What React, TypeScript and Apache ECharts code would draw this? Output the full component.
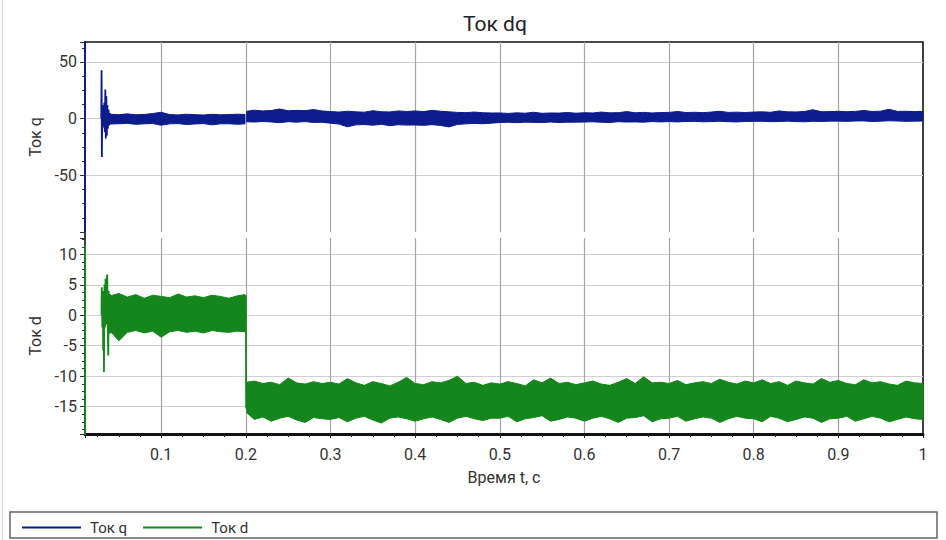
import React, { useEffect, useRef } from 'react';
import * as echarts from 'echarts';

const FONT = "Roboto, 'Noto Sans', sans-serif";
const BLUE = '#0c1c8c';
const GREEN = '#14861b';

// Time stamps (s)
const tA = [0.04, 0.05, 0.06, 0.07, 0.08, 0.09, 0.10, 0.11, 0.12, 0.13, 0.14, 0.15, 0.16, 0.17, 0.18, 0.19, 0.199];
const tB = [0.201, 0.21, 0.22, 0.23, 0.24, 0.25, 0.26, 0.27, 0.28, 0.29,
  0.30, 0.31, 0.32, 0.33, 0.34, 0.35, 0.36, 0.37, 0.38, 0.39,
  0.40, 0.41, 0.42, 0.43, 0.44, 0.45, 0.46, 0.47, 0.48, 0.49,
  0.50, 0.51, 0.52, 0.53, 0.54, 0.55, 0.56, 0.57, 0.58, 0.59,
  0.60, 0.61, 0.62, 0.63, 0.64, 0.65, 0.66, 0.67, 0.68, 0.69,
  0.70, 0.71, 0.72, 0.73, 0.74, 0.75, 0.76, 0.77, 0.78, 0.79,
  0.80, 0.81, 0.82, 0.83, 0.84, 0.85, 0.86, 0.87, 0.88, 0.89,
  0.90, 0.91, 0.92, 0.93, 0.94, 0.95, 0.96, 0.97, 0.98, 0.99, 1.00];

// Ток q: noise-band envelopes
const qUpperA = [3.8, 3.5, 4.2, 3.4, 3.7, 4.5, 5.6, 3.6, 3.3, 3.9, 3.5, 3.2, 3.8, 3.4, 3.6, 3.9, 3.7];
const qLowerA = [-4.8, -4.5, -4.2, -5, -4.6, -4.3, -5.8, -4.6, -4.4, -5.2, -4.7, -4.4, -5.5, -4.6, -4.5, -5, -4.6];
const qUpperB = [6.5, 7.5, 6.8, 7.2, 8.5, 6.9, 7.3, 7, 8, 6.8,
  6.2, 5.8, 6.5, 6, 5.7, 7, 6.1, 5.9, 6.8, 6.3,
  6.8, 6.2, 7.3, 6.5, 6, 5.5, 5.3, 5.8, 5.2, 5,
  5, 4.6, 5.1, 4.8, 5.6, 4.7, 5, 4.9, 5.4, 4.8,
  5.2, 5, 5.8, 5.1, 5.3, 6.2, 5.2, 5.5, 5, 5.4,
  5.5, 6.3, 5.4, 5.6, 5.3, 5.8, 6.5, 5.5, 5.7, 5.4,
  5.8, 6, 5.6, 6.8, 6, 5.9, 6.3, 7.8, 6.1, 6.2,
  6.5, 6.1, 6.4, 7.2, 6.3, 6.6, 8.2, 6.4, 6.5, 6.2, 6.4];
const qLowerB = [-2.8, -3, -2.5, -2.9, -3.6, -2.7, -3.1, -2.6, -3.4, -3.2,
  -4, -4.8, -7.2, -5.5, -5.2, -5.8, -5, -6.2, -5.4, -5.7,
  -5.6, -5.9, -5.3, -6, -7.3, -5.1, -4.6, -4.2, -4.5, -4,
  -3.4, -3.2, -3.6, -3.1, -3.3, -3.5, -3, -3.4, -3.2, -3.1,
  -3, -2.8, -3.2, -3.4, -2.7, -3, -2.9, -3.1, -2.6, -2.9,
  -2.6, -2.9, -2.5, -2.4, -2.8, -2.6, -2.3, -2.7, -2.9, -2.5,
  -2.4, -2.3, -2.7, -2.5, -2.2, -2.6, -2.8, -2.3, -2.5, -2.2,
  -2.2, -2.4, -2.1, -2, -2.5, -2.2, -1.9, -2.1, -2.4, -2.2, -2.1];

// Ток d: noise-band envelopes
const dUpperA = [3.2, 3.6, 3.0, 3.4, 2.8, 3.3, 3.1, 2.9, 3.5, 3.0, 3.2, 2.9, 3.3, 3.1, 2.8, 3.2, 3.4];
const dLowerA = [-2.6, -4.2, -2.8, -2.5, -2.9, -2.6, -3.6, -2.7, -2.5, -2.8, -2.6, -2.9, -2.5, -2.7, -2.8, -2.6, -2.7];
const dUpperB = [-11, -10.8, -11.2, -11.0, -11.4, -10.3, -11.1, -11.3, -10.9, -11.2,
  -11.0, -11.3, -10.4, -11.1, -11.5, -10.9, -11.2, -11.6, -11.0, -10.2,
  -11.2, -11.4, -10.9, -11.1, -10.7, -10.0, -11.2, -11.0, -11.5, -11.1,
  -11.3, -10.9, -11.2, -11.6, -10.6, -11.1, -10.3, -11.2, -11.0, -11.4,
  -11.1, -10.8, -11.3, -11.5, -11.0, -10.4, -11.2, -10.1, -11.1, -11.0,
  -11.2, -10.7, -11.4, -11.1, -10.9, -11.2, -10.5, -11.0, -11.3, -10.8,
  -11.1, -10.6, -11.2, -10.9, -11.5, -10.8, -11.1, -11.3, -10.4, -11.0,
  -10.7, -11.2, -11.4, -10.6, -11.1, -10.9, -11.3, -11.5, -10.8, -11.1, -11.2];
const dLowerB = [-16, -17.1, -16.7, -17.4, -16.9, -16.6, -17.2, -17.6, -16.8, -17.0,
  -17.1, -16.8, -17.5, -16.9, -16.6, -17.2, -17.7, -16.9, -16.7, -17.0,
  -17.4, -17.0, -16.7, -17.1, -17.6, -16.9, -16.6, -17.0, -17.3, -16.9,
  -16.9, -16.6, -17.5, -17.0, -16.8, -16.5, -17.4, -17.1, -16.7, -16.9,
  -17.4, -16.9, -16.6, -17.0, -17.6, -16.9, -16.8, -16.5, -17.5, -17.0,
  -16.9, -16.6, -17.4, -17.0, -16.7, -16.9, -17.6, -17.0, -16.6, -16.9,
  -17.0, -17.5, -16.6, -16.9, -17.5, -17.1, -16.7, -16.9, -17.6, -17.0,
  -16.9, -16.6, -17.4, -17.0, -16.6, -16.9, -17.5, -17.1, -16.7, -17.0, -17.1];

// Transients (start-up and step at 0.2 s); null = gap
const qTransT = [0.01, 0.01, 0.02, 0.0292, 0.0296, 0.0299, 0.0305, 0.031, 0.0316, 0.0322, 0.0328, 0.0334, 0.034, 0.0346, 0.0352, 0.0358, 0.0364, 0.037, 0.0378, 0.0386, 0.0394, 0.04];
const qTransV = [80, -100, null, 0, 42.6, -33.9, 12, -8, 10, -6, 14, -12, 25.6, -17.6, 20, -15, 12, -9, 8, -6, 5, -4];
const dTransT = [0.01, 0.01, 0.02, 0.0295, 0.0298, 0.0305, 0.031, 0.0315, 0.032, 0.0324, 0.033, 0.0336, 0.0342, 0.0348, 0.0355, 0.0363, 0.0369, 0.0375, 0.038, 0.0388, 0.0395, 0.04, 0.12, 0.199, 0.2, 0.2004, 0.201];
const dTransV = [11.5, -20, null, 0, 4.6, -2, 3.5, -5.8, 4, -9.3, 5, -2, 6, -1.5, 5.5, 6.7, -2, -6.6, 4, -3, 3.5, -3, null, 3, 3.3, -15.3, -13];

const xTicks = [0.1, 0.2, 0.3, 0.4, 0.5, 0.6, 0.7, 0.8, 0.9, 1];

const pairs = (t: number[], v: (number | null)[]) => t.map((x, i) => [x, v[i] === null ? '-' : v[i]]);

const bandSeries = (name: string, t: number[], up: number[], lo: number[], color: string, axis: number) => ({
  name,
  type: 'custom',
  coordinateSystem: 'cartesian2d',
  xAxisIndex: axis,
  yAxisIndex: axis,
  z: 2,
  silent: true,
  data: [[t[0], up[0]]],
  encode: { x: 0, y: 1 },
  renderItem: (_params: any, api: any) => {
    const pts: number[][] = [];
    for (let i = 0; i < t.length; i++) pts.push(api.coord([t[i], up[i]]));
    for (let i = t.length - 1; i >= 0; i--) pts.push(api.coord([t[i], lo[i]]));
    return {
      type: 'polygon',
      shape: { points: pts },
      style: { fill: color, stroke: color, lineWidth: 1, lineJoin: 'bevel' },
    };
  },
});

const axisFont = { fontFamily: FONT, fontSize: 16, color: '#333' };

export default function App() {
  const ref = useRef<HTMLDivElement>(null);
  useEffect(() => {
    if (!ref.current) return;
    const chart = echarts.init(ref.current, null, { renderer: 'svg' });
    const option: any = {
      animation: false,
      backgroundColor: '#ffffff',
      title: {
        text: 'Ток dq',
        left: 458,
        top: 8,
        textStyle: { fontFamily: FONT, fontSize: 21, fontWeight: 'normal', color: '#222' },
      },
      legend: {
        data: ['Ток q', 'Ток d'],
        left: 17,
        top: 515,
        icon: 'rect',
        itemWidth: 59,
        itemHeight: 2,
        itemGap: 16,
        textStyle: { fontFamily: FONT, fontSize: 15, color: '#333', padding: [0, 0, 0, 4] },
      },
      grid: [
        { left: 85, right: 23, top: 42, height: 190, outerBoundsMode: 'none', containLabel: false },
        { left: 85, right: 23, top: 238, height: 196, outerBoundsMode: 'none', containLabel: false },
      ],
      xAxis: [
        {
          gridIndex: 0, type: 'value', min: 0.01, max: 1, splitNumber: 10,
          axisLine: { show: false }, axisTick: { show: false }, axisLabel: { show: false },
          splitLine: { show: true, showMinLine: false, showMaxLine: false, lineStyle: { color: '#a6a6a6', width: 1.2 } },
        },
        {
          gridIndex: 1, type: 'value', min: 0.01, max: 1, splitNumber: 10,
          name: 'Время t, с', nameLocation: 'middle', nameGap: 35,
          nameTextStyle: { ...axisFont, fontSize: 16 },
          axisLine: { show: true, onZero: false, lineStyle: { color: '#111', width: 3 } },
          axisTick: { show: true, length: 4, lineStyle: { color: '#222' } },
          minorTick: { show: true, splitNumber: 4, length: 3, lineStyle: { color: '#222' } },
          axisLabel: {
            ...axisFont, margin: 12, showMinLabel: false,
            formatter: (v: number) => (xTicks.some((k) => Math.abs(k - v) < 1e-6) ? String(Math.round(v * 10) / 10) : ''),
          },
          splitLine: { show: true, showMinLine: false, showMaxLine: false, lineStyle: { color: '#a6a6a6', width: 1.2 } },
        },
      ],
      yAxis: [
        {
          gridIndex: 0, type: 'value', min: -100, max: 67.6, interval: 50,
          name: 'Ток q', nameLocation: 'middle', nameGap: 31, nameRotate: 90,
          nameTextStyle: { ...axisFont, fontSize: 16 },
          axisLine: { show: false },
          axisTick: { show: true, length: 5, lineStyle: { color: '#333' } },
          minorTick: { show: true, splitNumber: 4, length: 3, lineStyle: { color: '#333' } },
          axisLabel: { ...axisFont, margin: 8, showMinLabel: false, showMaxLabel: false },
          splitLine: { show: true, showMinLine: false, showMaxLine: false, lineStyle: { color: '#d0d0d0' } },
        },
        {
          gridIndex: 1, type: 'value', min: -19.5, max: 12.7, splitNumber: 6,
          name: 'Ток d', nameLocation: 'middle', nameGap: 31, nameRotate: 90,
          nameTextStyle: { ...axisFont, fontSize: 16 },
          axisLine: { show: false },
          axisTick: { show: true, length: 5, lineStyle: { color: '#333' } },
          minorTick: { show: true, splitNumber: 4, length: 3, lineStyle: { color: '#333' } },
          axisLabel: { ...axisFont, margin: 8, showMinLabel: false, showMaxLabel: false },
          splitLine: { show: true, showMinLine: false, showMaxLine: false, lineStyle: { color: '#d0d0d0' } },
        },
      ],
      graphic: [
        { type: 'line', z: 0, shape: { x1: 2.5, y1: 0, x2: 2.5, y2: 540 }, style: { stroke: '#d8d8d8', lineWidth: 1.5 } },
        { type: 'rect', z: 0, shape: { x: 85, y: 42, width: 838, height: 392 }, style: { fill: 'none', stroke: '#111', lineWidth: 1.6 } },
        { type: 'rect', z: 0, shape: { x: 10, y: 512, width: 927, height: 26 }, style: { fill: 'none', stroke: '#666', lineWidth: 1.5 } },
      ],
      series: [
        bandSeries('q-band-A', tA, qUpperA, qLowerA, BLUE, 0),
        bandSeries('q-band-B', tB, qUpperB, qLowerB, BLUE, 0),
        bandSeries('d-band-A', tA, dUpperA, dLowerA, GREEN, 1),
        bandSeries('d-band-B', tB, dUpperB, dLowerB, GREEN, 1),
        {
          name: 'Ток q', type: 'line', xAxisIndex: 0, yAxisIndex: 0, showSymbol: false, symbol: 'none',
          connectNulls: false, color: BLUE, lineStyle: { color: BLUE, width: 1.8 }, z: 3,
          data: pairs(qTransT, qTransV),
        },
        {
          name: 'Ток d', type: 'line', xAxisIndex: 1, yAxisIndex: 1, showSymbol: false, symbol: 'none',
          connectNulls: false, color: GREEN, lineStyle: { color: GREEN, width: 1.8 }, z: 3,
          data: pairs(dTransT, dTransV),
        },
      ],
    };
    chart.setOption(option);
    return () => chart.dispose();
  }, []);
  return <div ref={ref} style={{ position: 'fixed', left: 0, top: 0, width: 946, height: 540 }} />;
}
